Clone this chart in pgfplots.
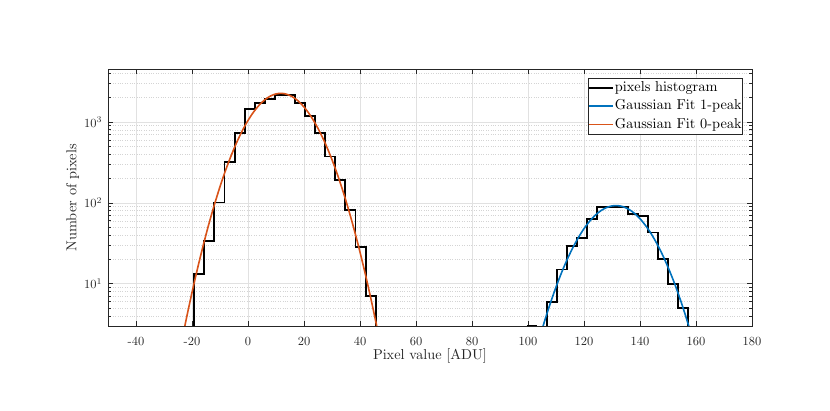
\documentclass[border=0pt]{standalone}
\usepackage{pgfplots}
\pgfplotsset{compat=1.18}
\definecolor{mblue}{RGB}{0,114,189}
\definecolor{morange}{RGB}{217,83,25}
\definecolor{axgray}{RGB}{38,38,38}
\definecolor{gridgray}{RGB}{225,225,225}
\definecolor{mgridgray}{RGB}{212,212,212}
\font\tickfont=cmr10 at 12.5pt
\font\supfont=cmr7 at 8.75pt
\font\labfont=cmr10 at 14.4pt
\begin{document}
\begin{tikzpicture}
\useasboundingbox (0,0) rectangle (830bp,411bp);
\begin{axis}[
  at={(108bp,85bp)}, anchor=south west,
  scale only axis, width=644bp, height=256.7bp,
  xmin=-50, xmax=180, ymode=log, ymin=3, ymax=4470,
  xtick={-40,-20,0,20,40,60,80,100,120,140,160,180},
  xticklabels={-40,-20,0,20,40,60,80,100,120,140,160,180},
  ytick={10,100,1000},
  yticklabels={{10\raisebox{4.6bp}{\supfont 1}},{10\raisebox{4.6bp}{\supfont 2}},{10\raisebox{4.6bp}{\supfont 3}}},
  minor ytick={4,5,6,7,8,9,20,30,40,50,60,70,80,90,200,300,400,500,600,700,800,900,2000,3000,4000},
  minor xtick={},
  grid=both,
  major grid style={gridgray, line width=0.5bp},
  minor grid style={mgridgray, dotted, line width=0.45bp},
  tick align=inside, tick pos=both,
  major tick length=5bp, minor tick length=3bp,
  axis line style={axgray, line width=0.6bp},
  tick style={axgray, line width=0.5bp},
  every tick label/.append style={font=\tickfont, text=axgray},
  xticklabel style={yshift=-8bp},
  yticklabel style={xshift=-3bp},
  xlabel={Pixel value [ADU]},
  ylabel={Number of pixels},
  label style={font=\labfont, text=axgray},
  xlabel style={at={(axis description cs:0.5,0)}, anchor=north, inner sep=0pt, yshift=-23bp},
  ylabel style={at={([xshift=-28.7bp]axis description cs:0,0.5)}, anchor=south, inner sep=0pt},
  legend cell align=left,
  legend style={at={(axis description cs:0.986,0.966)}, anchor=north east,
    draw=axgray, line width=0.5bp, fill=white,
    font=\labfont,
    nodes={text height=10.5bp, text depth=3.5bp, inner sep=1bp},
    row sep=2.3bp, inner xsep=0bp, inner ysep=1.7bp},
  legend image code/.code={\draw[#1] (0bp,0bp) -- (24bp,0bp);},
]
% histogram, 0-peak part
\addplot[black, line width=1.9bp, const plot mark left] coordinates {
(-19.2,1) (-19.2,13.1) (-15.6,34) (-12.0,101) (-8.4,316) (-4.8,726)
(-1.2,1432) (2.4,1698) (6.0,1937) (9.6,2168) (13.2,2150) (16.8,1698)
(20.4,1186) (24.0,738) (27.6,374) (31.2,189) (34.8,82.5) (38.4,28.3)
(42.0,7.06) (45.6,7.06) (45.6,1)
};
\addlegendentry{pixels histogram}
% histogram, 1-peak part
\addplot[black, line width=1.9bp, const plot mark left, forget plot] coordinates {
(106.8,1) (106.8,6.0) (110.4,15.0) (114.0,28.9) (117.6,37.0) (121.2,62.6)
(124.8,88) (128.4,89) (132.0,88) (135.6,72.9) (139.2,69) (142.8,43)
(146.4,20.4) (150.0,10.0) (153.6,5.0) (157.2,5.0) (157.2,1)
};
\addplot[black, line width=1.9bp, forget plot] coordinates {(99.6,3) (103.2,3)};
% Gaussian fit 1-peak
\addplot[mblue, line width=1.6bp, smooth] coordinates {
(104,2.06) (106,3.52) (108,5.77) (110,9.08) (112,13.74) (114,19.95)
(116,27.8) (118,37.2) (120,47.9) (122,59.1) (124,70.1) (126,79.8)
(128,87.2) (130,91.5) (132,92.3) (134,89.4) (136,83.1) (138,74.2)
(140,63.6) (142,52.3) (144,41.4) (146,31.4) (148,22.9) (150,16.0)
(152,10.8) (154,6.96) (156,4.31) (158,2.57) (160,1.47)
};
\addlegendentry{Gaussian Fit 1-peak}
% Gaussian fit 0-peak
\addplot[morange, line width=1.6bp, smooth] coordinates {
(-24,1.70) (-22,3.72) (-20,7.78) (-18,15.56) (-16,29.7) (-14,54.3)
(-12,94.8) (-10,158.2) (-8,252.5) (-6,384.6) (-4,561) (-2,782)
(0,1041) (2,1326) (4,1613) (6,1877) (8,2087) (10,2218) (12,2255)
(14,2188) (16,2031) (18,1803) (20,1529) (22,1239) (24,960) (26,711)
(28,504) (30,341) (32,220.5) (34,136.3) (36,80.6) (38,45.5) (40,24.6)
(42,12.7) (44,6.27) (46,2.96) (48,1.33)
};
\addlegendentry{Gaussian Fit 0-peak}
\end{axis}
\end{tikzpicture}
\end{document}
